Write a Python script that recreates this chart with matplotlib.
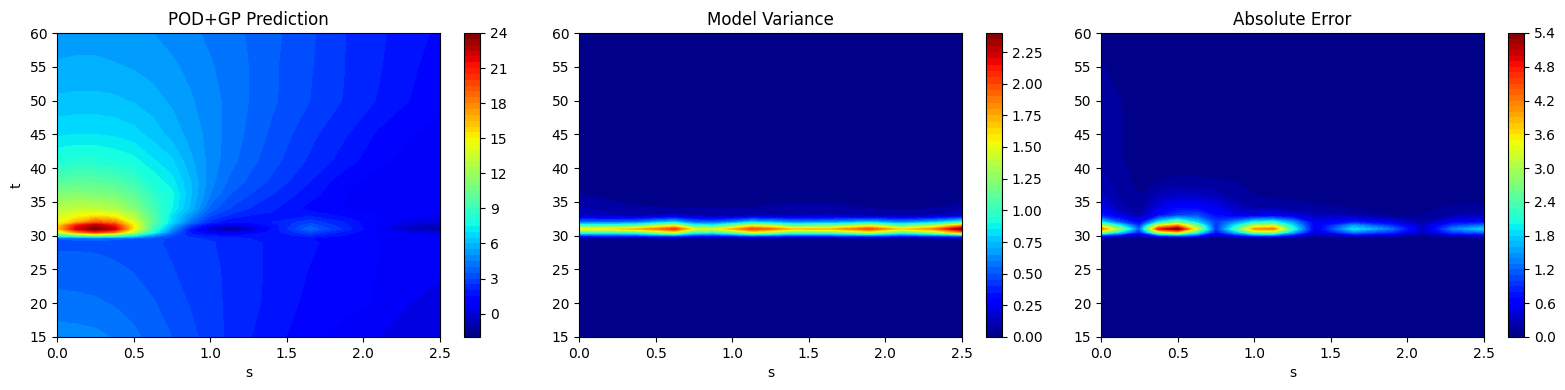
import numpy as np
import matplotlib
matplotlib.use("Agg")
import matplotlib.pyplot as plt

# grid (not uniform, finer around the t=31 band)
s_vals = [0, .125, .25, .375, .5, .625, .75, .875, 1.0, 1.125, 1.25, 1.4, 1.65, 1.9, 2.1, 2.3, 2.5]
t_vals = [15, 20, 25, 29, 29.6, 30, 30.5, 31, 31.5, 32, 33, 34, 36, 38, 41, 45, 50, 55, 60]

prediction = [
    [4.75, 4.72, 4.65, 4.45, 4.15, 3.75, 3.5, 3.15, 2.75, 2.4, 2.05, 1.65, 1.25, .75, .49, .38, .3],
    [4.2, 4.15, 4.08, 3.95, 3.75, 3.55, 3.25, 2.95, 2.67, 2.4, 2.17, 1.85, 1.35, 1.15, .95, .5, .4],
    [3.7, 3.7, 3.68, 3.6, 3.47, 3.25, 3.03, 2.8, 2.62, 2.4, 2.17, 1.9, 1.48, 1.2, .98, .75, .55],
    [3.4, 3.4, 3.38, 3.3, 3.22, 3.1, 2.9, 2.7, 2.55, 2.35, 2.15, 1.9, 1.58, 1.25, 1.02, .85, .7],
    [3.5, 3.6, 3.7, 3.6, 3.5, 3.2, 2.9, 2.6, 2.4, 2.2, 2.0, 1.8, 1.5, 1.2, 1.0, .85, .7],
    [8, 9.5, 10, 9.5, 7.5, 5, 3.2, 2.2, 1.8, 1.6, 1.7, 1.7, 2.2, 1.4, .95, .7, .5],
    [13, 17.5, 20, 18, 13, 8, 4.2, 1.8, .7, .3, .8, 1.7, 3.0, 1.7, .9, .3, .1],
    [16, 22, 24, 22.5, 15, 9, 5, 1.8, -.5, -1.8, -.8, 1.5, 3.9, 2.2, .8, -.9, -1.3],
    [15.5, 21, 23, 21, 15, 9.5, 5.8, 2.8, .8, 0, .4, 1.6, 3.4, 2, .8, -.2, -.6],
    [14.5, 16.5, 19, 18, 14, 10, 6.8, 4, 2.3, 1.5, 1.5, 2.0, 2.8, 1.9, .9, .3, .1],
    [13.5, 14.5, 15, 14.5, 12.5, 9.8, 7, 5, 3.1, 2.4, 2.0, 1.9, 1.9, 1.3, 1.0, .75, .5],
    [12.8, 13, 13, 12.6, 11.3, 9.4, 7.5, 5.8, 3.8, 3, 2.5, 2.1, 1.3, .95, .8, .75, .7],
    [11.2, 11.3, 11.2, 10.9, 10.1, 8.7, 7.7, 6, 4.5, 3.5, 3, 2.5, 1.7, .95, .85, .8, .75],
    [9.8, 10, 9.9, 9.6, 9, 7.9, 7.2, 6, 4.7, 3.9, 3.4, 2.9, 2, 1.05, .9, .8, .75],
    [8.1, 8.2, 8.2, 8, 7.7, 7.1, 6.6, 5.6, 4.8, 4.2, 3.7, 3.2, 2.4, 1.7, 1.05, .9, .8],
    [6.9, 7, 7, 6.9, 6.7, 6.3, 5.8, 5.3, 4.8, 4.3, 3.9, 3.4, 2.65, 2, 1.4, 1.02, .85],
    [6.1, 6.15, 6.15, 6.1, 5.95, 5.7, 5.4, 5.05, 4.7, 4.35, 4, 3.6, 3, 2.4, 1.95, 1.5, 1.15],
    [5.55, 5.6, 5.6, 5.55, 5.45, 5.3, 5.1, 4.85, 4.55, 4.3, 4, 3.6, 3.05, 2.45, 2.05, 1.6, 1.25],
    [5.3, 5.3, 5.3, 5.2, 5.1, 5.0, 4.8, 4.6, 4.4, 4.2, 3.95, 3.65, 3.1, 2.45, 2.1, 1.7, 1.4],
]

variance = [
    [0] * 17,
    [0] * 17,
    [0] * 17,
    [0] * 17,
    [.04, .04, .04, .04, .05, .05, .04, .04, .04, .05, .05, .04, .04, .05, .04, .04, .05],
    [.38, .4, .4, .42, .48, .52, .38, .35, .42, .52, .48, .42, .45, .52, .42, .48, .62],
    [1.0, 1.0, 1.0, 1.05, 1.3, 1.5, 1.0, .95, 1.15, 1.5, 1.35, 1.1, 1.15, 1.45, 1.05, 1.3, 1.8],
    [1.55, 1.55, 1.6, 1.7, 1.85, 2.05, 1.5, 1.45, 1.7, 2.0, 1.9, 1.65, 1.7, 2.0, 1.6, 1.8, 2.4],
    [1.0, 1.0, 1.0, 1.05, 1.3, 1.5, .95, .9, 1.15, 1.5, 1.35, 1.1, 1.15, 1.45, 1.05, 1.3, 1.8],
    [.55, .55, .55, .58, .7, .8, .55, .52, .62, .78, .72, .62, .65, .75, .62, .72, .95],
    [.14, .12, .1, .09, .1, .11, .1, .09, .09, .1, .1, .1, .11, .09, .09, .1, .15],
    [.11, .09, .07, .06, .055, .05, .05, .05, .05, .05, .06, .07, .07, .05, .04, .05, .07],
    [.055, .04, .03, .02, .02, .02, .02, .02, .02, .02, .02, .02, .02, .02, .02, .02, .02],
    [0] * 17,
    [0] * 17,
    [0] * 17,
    [0] * 17,
    [0] * 17,
    [0] * 17,
]

abs_error = [
    [0] * 17,
    [0] * 17,
    [0] * 17,
    [0] * 17,
    [.02] * 17,
    [.8, .5, .3, .9, 1.2, .9, .3, .6, 1, 1, .6, .2, .4, .3, .1, .3, .4],
    [2.9, 1.8, .8, 3, 3.6, 2.2, .7, 1.6, 2.8, 2.9, 1.6, .4, 1.3, .9, .3, 1, 1.2],
    [4.2, 2.8, 1.1, 4.7, 5.4, 3.2, .9, 2.3, 4, 4.2, 2.2, .45, 1.9, 1.25, .3, 1.35, 1.8],
    [3.1, 2.0, .9, 3.4, 4.1, 2.7, .9, 1.9, 3, 3.2, 1.9, .5, 1.5, .9, .3, 1, 1.3],
    [1.9, 1.1, .6, 1.9, 2.6, 1.8, 1.0, 1.4, 2, 2.1, 1.5, .5, .8, .5, .2, .6, .7],
    [.8, .45, .2, .7, 1.0, 1.1, .7, .5, .5, .55, .45, .3, .2, .1, .1, .2, .25],
    [.55, .25, .12, .5, .7, .7, .55, .35, .2, .2, .18, .13, .1, .08, .08, .12, .13],
    [.33, .16, .1, .25, .32, .32, .25, .15, .1, .06, .05, .04, .03, .02, .02, .03, .04],
    [.24, .14, .07, .1, .12, .12, .115, .1, .06, .03, .02, .02, .01, 0, 0, 0, 0],
    [.19, .11, .06, .05, .04, .03, .02, .01, 0, 0, 0, 0, 0, 0, 0, 0, 0],
    [.15, .11, .06, .03, .02, .01, 0, 0, 0, 0, 0, 0, 0, 0, 0, 0, 0],
    [.13, .1, .05, .02, .01, 0, 0, 0, 0, 0, 0, 0, 0, 0, 0, 0, 0],
    [.11, .06, .03, .01, 0, 0, 0, 0, 0, 0, 0, 0, 0, 0, 0, 0, 0],
    [.05, .03, .01, 0, 0, 0, 0, 0, 0, 0, 0, 0, 0, 0, 0, 0, 0],
]

titles = ["POD+GP Prediction", "Model Variance", "Absolute Error"]
fields = [prediction, variance, abs_error]
level_sets = [np.arange(-2, 24.01, .5), np.arange(0, 2.401, .05), np.arange(0, 5.401, .1)]

W, H = 1565, 390
ax_left = [57, 579, 1101]
fig = plt.figure(figsize=(W / 100, H / 100), dpi=100)
axes = []
for i in range(3):
    # positions in pixels, measured on the reference
    ax = fig.add_axes([ax_left[i] / W, 1 - 337 / H, 383 / W, 304 / H])
    cax = fig.add_axes([(ax_left[i] + 407) / W, 1 - 337 / H, 16 / W, 304 / H])
    cf = ax.contourf(s_vals, t_vals, np.array(fields[i]), levels=level_sets[i], cmap="jet")
    ax.set_facecolor(plt.get_cmap("jet")(0.0))
    fig.colorbar(cf, cax=cax)
    ax.set_title(titles[i])
    ax.set_xlabel("s")
    axes.append(ax)
axes[0].set_ylabel("t")

plt.savefig("out.png")
